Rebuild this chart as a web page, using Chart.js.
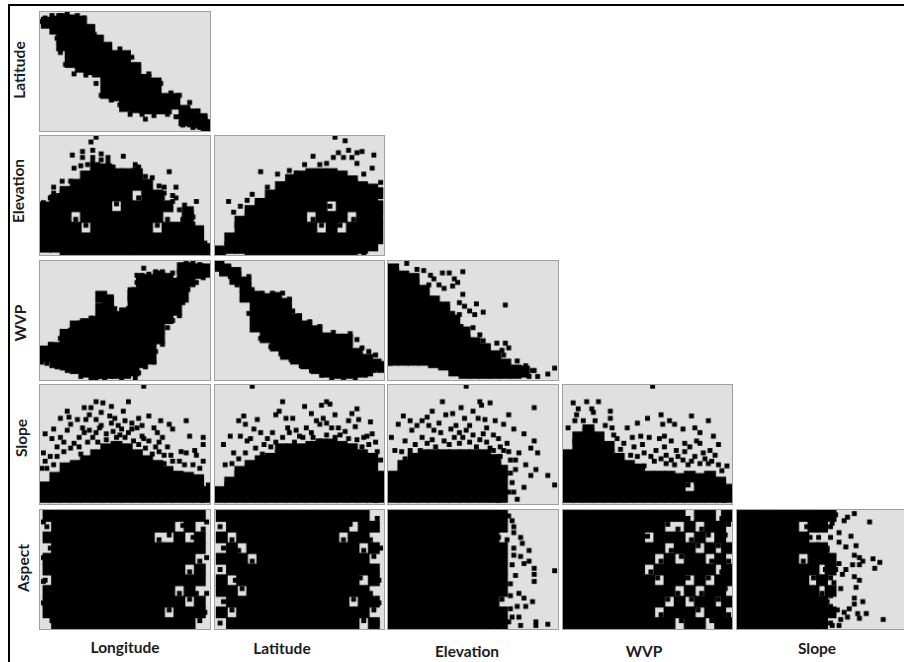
<!DOCTYPE html>
<html>
<head>
<meta charset="utf-8">
<script src="https://cdn.jsdelivr.net/npm/chart.js@4/dist/chart.umd.min.js"></script>
<style>
  html,body{margin:0;padding:0;background:#fff;overflow:hidden;width:904px;height:662px;}
  #frame{position:absolute;left:8px;top:4px;width:900px;height:670px;border-left:2px solid #000;border-top:2px solid #000;}
  canvas{position:absolute;background:#e0e0e0;border:1px solid #a0a0a0;}
  .lbl{position:absolute;font:bold 15.5px Lato,"Open Sans",sans-serif;color:#1c1c1c;white-space:nowrap;transform:translate(-50%,-50%);}
  .lbl.rot{transform:translate(-50%,-50%) rotate(-90deg);}
</style>
</head>
<body>
<div id="frame"></div>
<script>
// axis names
const xNames = ["Longitude","Latitude","Elevation","WVP","Slope"];
const yNames = ["Latitude","Elevation","WVP","Slope","Aspect"];

// points, 0-100 of each panel's range
// each entry is [x, y, y, ...]. "Core" entries stand for solid clusters and get a bigger marker
const latLonCore = [[4,91],[9,86,92],[13,72,81,90,94],[18,58,67,76,85,93],[24,54,63,72,81,90,92],[29,52,61,70,79,85],[34,50,59,68,76],[39,32,41,50,59,66,70],[44,30,39,48,57,63],[50,21,30,39,48,57,63],[56,20,29,38,47,53],[62,19,28,37,43],[68,19,28,37,40],[74,19,27],[79,23,27],[85,9,17],[90,8,14],[95,7,10],[98,5]];
const latLonSparse = [[3,95],[7,97],[12,97],[16,98],[22,97],[26,95],[32,81],[36,78],[47,69],[54,62],[58,54],[64,48],[71,40],[77,32],[82,30],[88,24],[93,17],[97,12],[1,92],[10,78],[12,66],[15,56],[20,48],[27,47],[33,40],[36,30],[42,26],[47,22],[53,14],[60,14],[67,13],[75,14],[80,12],[84,5],[90,3],[94,3],[98,3],[62,10],[99,2]];

const elevLonCore = [[3,7,14,23,32,40],[9,7,14,23,32,41,46],[15,5,14,23,32,41,50,53],[21,5,14,23,41,50,59],[27,5,14,32,41,50,59,66],[33,5,14,23,32,41,50,59,68,72],[39,5,14,23,32,41,50,59,68,72],[45,5,14,23,32,50,59,68],[51,5,14,23,32,41,50,59,68],[57,5,14,23,32,41,59,68],[63,5,14,23,32,41,50,59],[69,5,14,32,41,50],[75,5,14,23,41],[81,5,14,23],[87,5,14,23,32,36],[93,5,14,20],[98,5]];
const elevLonSparse = [[33,99],[30,95],[19,84],[25,87],[25,82],[31,88],[31,82],[31,78],[36,85],[36,80],[40,82],[40,78],[49,83],[20,73],[76,70],[66,65],[73,57],[73,52],[80,57],[80,48],[8,57],[8,52],[92,45],[78,50],[78,45],[24,75],[28,76],[34,76],[43,74],[56,76],[56,72],[58,74],[62,66],[13,62],[18,62],[70,58],[72,48],[82,38],[85,42],[84,30],[90,32],[90,26],[95,18],[97,10],[6,48],[2,44],[11,50],[21,30],[27,25],[45,43],[58,48],[69,25],[75,30]];

const elevLatCore = [[3,3],[9,6,14],[15,6,14,23,28],[21,5,14,23,32,37],[27,5,14,23,32,41,43],[33,5,14,23,32,41,50],[39,5,14,23,32,41,50,57],[45,5,14,23,32,41,50,59,63],[51,5,14,23,32,41,50,59,66],[57,5,14,23,41,50,59,68],[63,5,14,32,41,50,59,68],[69,5,14,23,32,50,59,68],[75,5,14,32,41,50,59,66],[81,5,14,23,41,50,59,62],[87,6,14,23,32,41,50,57],[93,8,14,23,32,41,50,55],[96,14,23,32,41,52]];
const elevLatSparse = [[71,99],[77,96],[73,86],[79,88],[87,87],[94,84],[93,73],[58,83],[27,70],[8,45],[22,51],[15,41],[98,61],[98,54],[76,82],[66,77],[84,86],[84,77],[88,68],[37,68],[44,71],[48,69],[53,76],[31,57],[19,46],[11,36],[88,2],[81,82],[70,82],[62,76],[58,30],[74,25],[63,25],[68,41],[82,30]];

const wvpLonCore = [[3,20,24],[9,15,22,27],[15,13,22,31,38],[21,10,19,28,37,45],[27,7,16,25,34,43,47],[33,6,15,24,33,42,49],[36,6,15,24,33,42,51,60,70],[40,6,15,24,33,42,51,60,67],[45,6,15,24,33,42,50,53],[50,6,15,24,33,42,50,56],[55,8,17,26,35,44,53,62,71,73],[60,15,24,33,42,51,60,69,78,84],[65,18,27,36,45,54,63,72,81,84],[70,35,44,53,62,71,80,87],[75,52,61,70,79,85],[80,59,68,77,81],[84,70,79,88,94],[88,83,92,94],[93,90,93],[97,91,93]];
const wvpLonSparse = [[0.5,17],[1,15],[61,94],[57,88],[58,85],[99,93],[6,30],[12,35],[18,42],[24,48],[30,52],[34,60],[35,68],[42,68],[44,60],[52,60],[53,68],[55,76],[57,82],[60,88],[64,89],[68,91],[72,91],[78,90],[82,85],[83,95],[86,98],[90,98],[94,97],[4,14],[10,11],[16,8],[24,3],[30,2],[33,2],[38,1],[48,1],[56,2],[58,6],[62,11],[67,15],[68,24],[72,30],[75,44],[78,50],[82,54],[84,65],[87,76],[92,82],[96,86]];

const wvpLatCore = [[2,96],[6,92,93],[12,85,90],[18,70,78,82],[24,45,54,63,70],[30,36,45,54,63,68],[36,29,38,47,56,65,69],[42,22,31,40,49,58,64],[48,18,27,36,45,51],[54,14,23,32,41,45],[60,10,19,28,37,41],[66,7,16,25,34,35],[72,6,15,24,33,34],[78,6,15,24,33,34],[84,7,16,22],[90,8,17],[95,13],[99,11]];
const wvpLatSparse = [[3,98],[8,95],[14,90],[20,87],[22,76],[28,73],[34,73],[40,73],[44,68],[46,58],[50,54],[56,49],[62,45],[70,40],[80,39],[84,34],[87,27],[91,24],[95,21],[4,91],[9,87],[13,80],[16,68],[20,56],[23,44],[27,35],[33,28],[39,22],[45,17],[51,12],[57,8],[63,4],[69,2],[76,1],[83,2],[89,4],[94,8],[97,10],[99,13]];

const wvpElevCore = [[3,17,26,35,44,53,62,71,80,89,93],[9,17,26,35,44,53,62,71,80,87],[15,17,26,35,44,53,62,71,80,85],[21,17,26,35,44,53,62,71,75],[27,15,24,33,42,51,60,66],[33,13,22,31,40,49,58,61],[39,8,17,26,35,44,50],[45,6,15,24,33,40],[51,6,15,24,31],[57,6,15,24,26],[63,6,15,20],[69,6,13],[75,6,8],[80,7]];
const wvpElevSparse = [[11,98],[17,93],[21,92],[32,90],[36,90],[39,85],[41,82],[44,91],[38,79],[44,72],[33,77],[27,85],[42,65],[52,64],[69,63],[56,57],[45,62],[48,58],[51,55],[42,55],[38,56],[37,52],[50,44],[43,45],[46,41],[54,38],[56,33],[64,31],[69,31],[71,27],[67,25],[68,21],[76,16],[81,12],[85,8],[86,8],[94,5],[98,10],[88,3],[83,3],[78,7],[79,10],[1,14],[2,18],[24,80],[30,80],[25,88]];

const slopeLonCore = [[3,6,14],[9,6,14,22],[15,6,14,23,30],[21,6,14,23,32],[27,6,14,23,32,36],[33,6,14,23,32,41],[39,6,14,23,32,41,46],[45,6,14,23,32,41,48],[51,6,14,23,32,41,46],[57,6,14,23,32,41],[63,6,14,23,32,36],[69,6,14,23,32],[75,6,14,23,27],[81,6,14,23],[87,6,14,22],[93,6,14,20],[98,6,10]];
const slopeLonSparse = [[61,99],[52,86],[33,86],[37,85],[42,82],[30,81],[26,81],[16,78],[49,78],[36,77],[29,75],[12,72],[17,73],[22,71],[33,71],[41,74],[44,72],[50,70],[58,72],[64,74],[86,70],[71,70],[76,67],[67,64],[78,63],[72,56],[88,57],[96,56],[96,50],[8,63],[3,59],[7,55],[12,56],[16,62],[25,64],[29,62],[35,64],[39,59],[45,56],[54,63],[60,57],[64,53],[75,48],[83,44],[91,45],[92,41],[86,43],[77,41],[2,43],[3,36],[6,40],[10,48],[20,51],[31,56],[23,56],[18,67],[27,71],[48,63],[57,64],[73,34],[82,36],[90,33],[68,48],[14,44],[1,30],[99,16],[70,52],[62,47],[55,53],[10,40],[14,52],[18,47],[23,48],[26,60],[28,52],[33,60],[36,66],[39,54],[43,61],[47,58],[50,56],[52,60],[58,50],[61,55],[66,42],[70,44],[73,41],[78,36],[85,33],[94,30],[96,36],[4,30],[8,33],[24,42],[34,52],[42,68],[46,66],[54,68],[60,66],[69,60]];

const slopeLatCore = [[3,6,10],[9,6,14,18],[15,6,14,23,27],[21,6,14,23,32],[27,6,14,23,32,36],[33,6,14,23,32,38],[39,6,14,23,32,41,46],[45,6,14,23,32,41,46],[51,6,14,23,32,41,46],[57,6,14,23,32,41,48],[63,6,14,23,32,41,50],[69,6,14,23,32,41,50],[75,6,14,23,32,41,48],[81,6,14,23,32,41,46],[87,6,14,23,32,41],[93,6,14,23,32,38],[97,6,14,23]];
const slopeLatSparse = [[22,99],[40,86],[66,86],[68,84],[63,83],[53,82],[38,78],[57,76],[64,72],[71,75],[84,80],[81,76],[79,70],[17,74],[14,70],[25,71],[36,75],[42,72],[46,72],[92,69],[43,64],[18,67],[23,63],[9,57],[5,50],[11,43],[85,71],[69,64],[62,67],[54,64],[93,59],[90,57],[34,60],[27,60],[15,57],[19,53],[95,52],[98,37],[6,33],[10,34],[40,56],[50,57],[77,61],[87,48],[62,53],[31,55],[83,65],[74,58],[57,60],[47,52],[24,47],[21,55],[29,50],[36,52],[38,46],[44,60],[48,62],[52,56],[58,56],[66,58],[71,56],[79,55],[84,54],[88,56],[91,50],[96,44],[14,38],[18,43],[28,42],[33,48],[73,64],[66,68],[60,70]];

const slopeElevCore = [[3,6,14,23],[9,6,14,23,32],[15,6,14,23,32,38],[21,6,14,23,32,41],[27,6,14,23,32,41],[33,6,14,23,32,41],[39,6,14,23,32,41],[45,6,14,23,32,41],[51,6,14,23,32,41],[57,6,14,23,32,41],[63,6,14,23,32,37],[67,6,14,23,28]];
const slopeElevSparse = [[46,99],[32,86],[54,86],[55,83],[60,85],[43,81],[26,78],[50,78],[86,81],[71,75],[9,74],[6,67],[13,70],[20,70],[23,73],[34,75],[38,76],[45,72],[53,72],[57,71],[63,70],[68,67],[74,63],[80,59],[17,66],[14,62],[2,56],[10,53],[4,45],[86,53],[84,47],[88,43],[81,33],[87,29],[94,24],[98,16],[84,24],[80,14],[76,4],[71,10],[73,18],[75,29],[77,43],[27,62],[37,63],[46,62],[56,59],[65,55],[70,51],[72,37],[23,51],[33,53],[42,51],[52,48],[62,45],[13,45],[19,45],[72,26],[74,10],[69,30],[66,40],[58,52],[8,44],[10,38],[16,50],[20,56],[26,54],[28,48],[31,60],[36,50],[39,56],[44,56],[48,52],[50,58],[54,54],[60,47],[66,48],[68,45],[71,44],[75,37],[24,66],[30,68],[40,66],[42,60],[48,66],[58,64],[62,58]];

const slopeWvpCore = [[3,6,14,23,32,41],[9,6,14,23,32,41,50,56],[15,6,14,23,32,41,50,59,62],[21,6,14,23,32,41,50,56],[27,6,14,23,32,41,48],[33,6,14,23,32,38],[39,6,14,23,32],[45,6,14,23,29],[51,6,14,23],[57,6,14,23],[63,6,14,23],[69,6,14,21],[75,6,23],[81,6,14,21],[87,6,14,23],[93,6,14,18],[98,6,12]];
const slopeWvpSparse = [[53,99],[6,85],[9,80],[14,86],[17,80],[21,86],[8,75],[18,77],[28,78],[28,72],[3,64],[7,70],[44,68],[50,72],[58,75],[63,70],[66,67],[59,67],[76,74],[86,70],[71,63],[78,64],[81,60],[89,57],[92,50],[79,53],[81,51],[72,51],[38,64],[29,64],[32,55],[36,51],[41,56],[46,57],[51,56],[57,55],[60,57],[64,53],[87,45],[90,41],[97,32],[92,33],[67,45],[75,48],[83,43],[48,43],[55,45],[61,41],[40,41],[71,37],[81,34],[48,32],[61,34],[54,36],[66,33],[76,36],[86,34],[44,40],[52,40],[58,38],[64,37],[68,40],[72,44],[78,40],[84,38],[88,36],[34,46],[30,58],[25,66],[12,70],[19,70],[42,48],[47,50],[60,48],[74,33],[94,28],[74,16]];

const aspectLonCore = [[5,14,23,32,50,59,77,95],[10,5,14,23,32,41,50,59,68,77,86,95],[16,5,14,23,32,41,50,59,68,77,86,95],[22,5,14,23,32,41,50,59,68,77,86,95],[28,5,14,23,32,41,50,59,68,77,86,95],[34,5,14,23,32,41,50,59,68,77,86,95],[40,5,14,23,32,41,50,59,68,77,86,95],[46,5,14,23,32,41,50,59,68,77,86,95],[52,5,14,23,32,41,50,59,68,77,86,95],[58,5,14,23,32,41,50,59,68,77,86,95],[64,5,14,23,32,41,50,59,68,77,86,95],[70,5,14,23,32,41,50,59,68,86,95],[76,5,23,32,41,50,59,68,86,95],[82,5,14,23,41,50,59,68,77,95],[88,5,14,32,41,59,68,86,95],[94,14,23,41,50,68,77,95]];
const aspectLonSparse = [[2,60],[2,40],[2,90],[2,22],[3,41],[6,68],[4,86],[7,7],[70,75],[76,16],[76,79],[82,30],[84,87],[88,25],[88,48],[90,77],[94,7],[92,30],[94,57],[96,84],[98,60],[98,90],[97,14],[98,30]];

const aspectLatCore = [[4,14,32,41,59,77,95],[10,5,23,32,50,59,68,86,95],[16,5,14,23,41,50,59,77,86,95],[22,5,14,23,32,41,50,68,77,86,95],[28,5,14,23,32,41,50,59,68,77,86,95],[34,5,14,23,32,41,50,59,68,77,86,95],[40,5,14,23,32,41,50,59,68,77,86,95],[46,5,14,23,32,41,50,59,68,77,86,95],[52,5,14,23,32,41,50,59,68,77,86,95],[58,5,14,23,32,41,50,59,68,77,86,95],[64,5,14,23,32,41,50,59,68,77,86,95],[70,5,14,23,32,41,50,59,68,77,86,95],[76,5,14,23,32,41,50,59,68,86,95],[82,5,14,32,41,50,59,68,77,95],[88,14,23,32,50,59,77,86,95],[94,5,23,41,50,68,86]];
const aspectLatSparse = [[3,5],[5,23],[3,50],[5,68],[3,86],[10,16],[12,41],[10,75],[16,34],[14,66],[22,57],[76,75],[82,25],[80,88],[88,7],[86,43],[88,66],[94,16],[92,30],[94,61],[92,75],[96,93],[98,68],[97,41],[97,22],[96,5]];

const aspectElevCore = [[3,5,14,23,32,41,50,59,68,77,86,95],[9,5,14,23,32,41,50,59,68,77,86,95],[15,5,14,23,32,41,50,59,68,77,86,95],[21,5,14,23,32,41,50,59,68,77,86,95],[27,5,14,23,32,41,50,59,68,77,86,95],[33,5,14,23,32,41,50,59,68,77,86,95],[39,5,14,23,32,41,50,59,68,77,86,95],[45,5,14,23,32,41,50,59,68,77,86,95],[51,5,14,23,32,41,50,59,68,77,86,95],[57,5,14,23,32,41,50,59,68,77,86,95],[62,5,14,23,32,41,50,59,68,77,86,95],[67,5,14,32,41,50,59,68,86,95]];
const aspectElevSparse = [[74,86],[78,77],[79,72],[83,66],[78,61],[83,57],[80,55],[86,51],[98,49],[86,46],[86,40],[75,45],[74,62],[74,68],[72,28],[77,30],[80,26],[76,19],[81,19],[85,23],[77,10],[78,3],[87,6],[94,4],[87,3],[71,95],[67,96],[74,81],[70,75],[73,54],[72,38],[72,17],[71,6],[73,10],[73,91],[67,25],[65,77]];

const aspectWvpCore = [[3,5,14,23,32,41,50,59,68,77,86,95],[9,5,14,23,32,41,50,59,68,77,86,95],[15,5,14,23,32,41,50,59,68,77,86,95],[21,5,14,23,32,41,50,59,68,77,86,95],[27,5,14,23,32,41,50,59,68,77,86,95],[33,5,14,23,32,41,50,59,68,77,86,95],[39,5,14,23,32,41,50,59,68,77,86,95],[45,5,14,23,32,41,50,59,68,77,86,95],[51,5,14,23,32,41,59,68,86,95],[57,5,23,32,50,68,77,86,95],[63,5,14,32,41,50,59,77,95],[69,14,23,41,50,68,77,95],[75,5,14,32,50,59,68,86],[81,5,23,41,50,59,77,95],[87,14,23,32,50,68,86,95],[93,5,14,32,41,59,77,86],[97,5,23,41,50,68,95]];
const aspectWvpSparse = [[52,48],[50,78],[58,12],[56,43],[58,57],[62,25],[64,66],[62,88],[70,7],[68,30],[70,61],[68,84],[76,25],[74,43],[76,75],[74,93],[80,16],[82,30],[80,70],[82,84],[88,7],[86,43],[88,57],[86,79],[92,25],[94,48],[92,70],[94,93],[98,12],[96,34],[98,57],[96,79],[98,88]];

const aspectSlopeCore = [[3,5,14,23,32,41,50,59,68,77,86,95],[9,5,14,23,32,41,50,59,68,77,86,95],[15,5,14,23,32,41,50,59,68,77,86,95],[21,5,14,23,32,41,50,59,68,77,86,95],[27,5,14,23,32,41,50,59,68,77,86,95],[33,5,14,23,32,41,50,59,68,77,86,95],[39,5,14,23,32,41,50,68,77,95],[45,5,14,23,32,50,59,68,86,95],[50,5,14,23,41,59,68,86,95],[55,14,32,50,59,95]];
const aspectSlopeSparse = [[69,97],[65,94],[63,91],[56,89],[78,90],[60,81],[67,78],[60,73],[70,70],[64,69],[69,62],[72,60],[74,57],[80,59],[84,56],[81,51],[72,54],[68,54],[64,50],[60,55],[62,46],[69,44],[72,41],[61,34],[70,35],[69,26],[74,23],[69,21],[76,13],[71,13],[86,8],[72,9],[65,10],[61,8],[56,3],[59,16],[55,28],[55,19],[58,50],[53,66],[51,95],[58,96],[55,77],[57,39],[60,3],[63,14],[66,17],[39,57],[41,86],[45,43],[43,77],[50,30],[52,50],[48,77],[55,5],[53,23],[55,43],[53,68],[55,86]];

// which arrays go in which cell
const panels = [
  [0,0,latLonCore,latLonSparse],
  [1,0,elevLonCore,elevLonSparse],[1,1,elevLatCore,elevLatSparse],
  [2,0,wvpLonCore,wvpLonSparse],[2,1,wvpLatCore,wvpLatSparse],[2,2,wvpElevCore,wvpElevSparse],
  [3,0,slopeLonCore,slopeLonSparse],[3,1,slopeLatCore,slopeLatSparse],[3,2,slopeElevCore,slopeElevSparse],[3,3,slopeWvpCore,slopeWvpSparse],
  [4,0,aspectLonCore,aspectLonSparse],[4,1,aspectLatCore,aspectLatSparse],[4,2,aspectElevCore,aspectElevSparse],[4,3,aspectWvpCore,aspectWvpSparse],[4,4,aspectSlopeCore,aspectSlopeSparse]
];

// layout
const colLeft = [39,214,387,562,736];
const colWidth = [172,171,172,171,172];
const rowTop = [11,135,260,384,509];
const panelH = 121;
const xLabelPos = [[125,647],[282,648],[467,651],[644,651],[817,648]];
const yLabelPos = [[19,70],[18,191],[20,323],[21,438],[23,568]];

function toPoints(cols){
  const pts=[];
  cols.forEach(c=>{ c.slice(1).forEach(y=>pts.push({x:c[0],y:y})); });
  return pts;
}

function addLabel(text,pos,rot){
  const d=document.createElement("div");
  d.className=rot?"lbl rot":"lbl";
  d.textContent=text;
  d.style.left=pos[0]+"px";
  d.style.top=pos[1]+"px";
  document.body.appendChild(d);
}

panels.forEach(p=>{
  const cv=document.createElement("canvas");
  cv.width=colWidth[p[1]]; cv.height=panelH;
  cv.style.left=colLeft[p[1]]+"px";
  cv.style.top=rowTop[p[0]]+"px";
  document.body.appendChild(cv);
  new Chart(cv.getContext("2d"),{
    type:"scatter",
    data:{datasets:[
      {data:toPoints(p[2]),pointStyle:"rect",pointRadius:8.5,pointBorderWidth:0,backgroundColor:"#000"},
      {data:toPoints(p[3]),pointStyle:"rect",pointRadius:3.5,pointBorderWidth:0,backgroundColor:"#000"}
    ]},
    options:{
      responsive:false,animation:false,
      layout:{padding:0,autoPadding:false},
      plugins:{legend:{display:false},tooltip:{enabled:false}},
      scales:{
        x:{type:"linear",min:0,max:100,display:false},
        y:{type:"linear",min:0,max:100,display:false}
      }
    }
  });
});

xNames.forEach((n,i)=>addLabel(n,xLabelPos[i],false));
yNames.forEach((n,i)=>addLabel(n,yLabelPos[i],true));
</script>
</body>
</html>
